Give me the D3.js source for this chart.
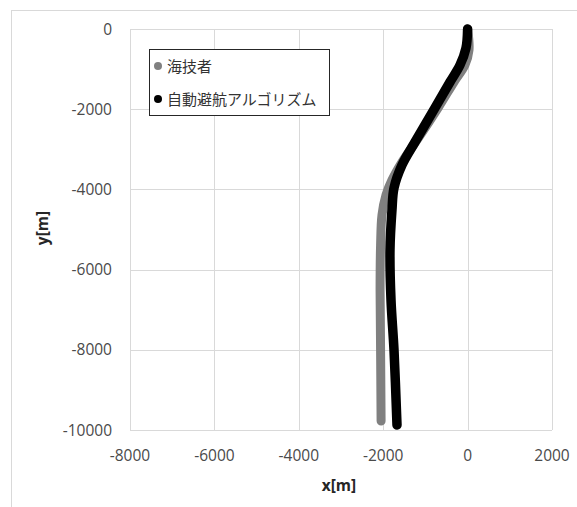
<!DOCTYPE html>
<html><head><meta charset="utf-8">
<script src="https://cdn.jsdelivr.net/npm/d3@7"></script>
<style>body{margin:0;background:#fff;}svg{display:block;}</style>
</head><body>
<svg id="c" width="577" height="507"></svg>
<script>
// Data (m)
const seriesNames = ["海技者", "自動避航アルゴリズム"];
const expertX = [0, 33, -62, -322, -701, -1199, -1555, -1792, -1934, -2029, -2062, -2074, -2062, -2050];
const expertY = [0, -524, -898, -1322, -1970, -2768, -3317, -3766, -4140, -4639, -5387, -6509, -8006, -9776];
const algoX = [0, -38, -180, -417, -773, -1246, -1555, -1744, -1792, -1839, -1815, -1744, -1673];
const algoY = [0, -474, -898, -1322, -1970, -2818, -3392, -3965, -4514, -5512, -6759, -8006, -9876];
const xTicks = [-8000, -6000, -4000, -2000, 0, 2000];
const yTicks = [0, -2000, -4000, -6000, -8000, -10000];

(function () {
const svg = d3.select("#c");
const pL = 130, pR = 552, pT = 29, pB = 430;
const x = d3.scaleLinear().domain([-8000, 2000]).range([pL, pR]);
const y = d3.scaleLinear().domain([-10000, 0]).range([pB, pT]);

// outer frame
svg.append("rect").attr("x", 11.5).attr("y", 10.5).attr("width", 700).attr("height", 700)
  .attr("fill", "none").attr("stroke", "#d9d9d9");

// grid
svg.append("g").selectAll("line").data(xTicks).join("line")
  .attr("x1", d => Math.round(x(d)) + 0.5).attr("x2", d => Math.round(x(d)) + 0.5)
  .attr("y1", pT).attr("y2", pB).attr("stroke", "#d9d9d9");
svg.append("g").selectAll("line").data(yTicks).join("line")
  .attr("y1", d => Math.round(y(d)) + 0.5).attr("y2", d => Math.round(y(d)) + 0.5)
  .attr("x1", pL).attr("x2", pR).attr("stroke", "#d9d9d9");

const font = "'Open Sans', 'Noto Sans CJK JP', sans-serif";
// tick labels
svg.append("g").selectAll("text").data(xTicks).join("text")
  .attr("x", d => x(d)).attr("y", 461).attr("text-anchor", "middle")
  .attr("font-family", font).attr("font-size", 15.5).attr("fill", "#4a4a4a")
  .text(d => String(d));
svg.append("g").selectAll("text").data(yTicks).join("text")
  .attr("x", 112).attr("y", d => y(d) + 5.5).attr("text-anchor", "end")
  .attr("font-family", font).attr("font-size", 15.5).attr("fill", "#4a4a4a")
  .text(d => String(d));

// axis titles
svg.append("text").attr("x", 339).attr("y", 491).attr("text-anchor", "middle")
  .attr("font-family", font).attr("font-size", 15.5).attr("font-weight", "bold").attr("fill", "#262626")
  .text("x[m]");
svg.append("text").attr("transform", "translate(48,228) rotate(-90)").attr("text-anchor", "middle")
  .attr("font-family", font).attr("font-size", 15.5).attr("font-weight", "bold").attr("fill", "#262626")
  .text("y[m]");

// series
const line = d3.line().x(d => x(d[0])).y(d => y(d[1])).curve(d3.curveCatmullRom.alpha(0.5));
const expert = expertX.map((v, i) => [v, expertY[i]]);
const algo = algoX.map((v, i) => [v, algoY[i]]);
svg.append("path").attr("d", line(expert)).attr("fill", "none").attr("stroke", "#808080")
  .attr("stroke-width", 9).attr("stroke-linecap", "round").attr("stroke-linejoin", "round");
svg.append("path").attr("d", line(algo)).attr("fill", "none").attr("stroke", "#000")
  .attr("stroke-width", 9.5).attr("stroke-linecap", "round").attr("stroke-linejoin", "round");

// legend
const lg = svg.append("g");
lg.append("rect").attr("x", 149.5).attr("y", 49.5).attr("width", 180).attr("height", 66)
  .attr("fill", "#fff").attr("stroke", "#262626").attr("stroke-width", 1);
const colors = ["#808080", "#000"];
seriesNames.forEach((n, i) => {
  const cy = 66 + i * 33;
  lg.append("circle").attr("cx", 158).attr("cy", cy).attr("r", 4).attr("fill", colors[i]);
  lg.append("text").attr("x", 167).attr("y", cy + 5.5)
    .attr("font-family", "'Noto Sans CJK JP', sans-serif").attr("font-size", 15).attr("fill", "#333")
    .text(n);
});
})();
</script>
</body></html>
